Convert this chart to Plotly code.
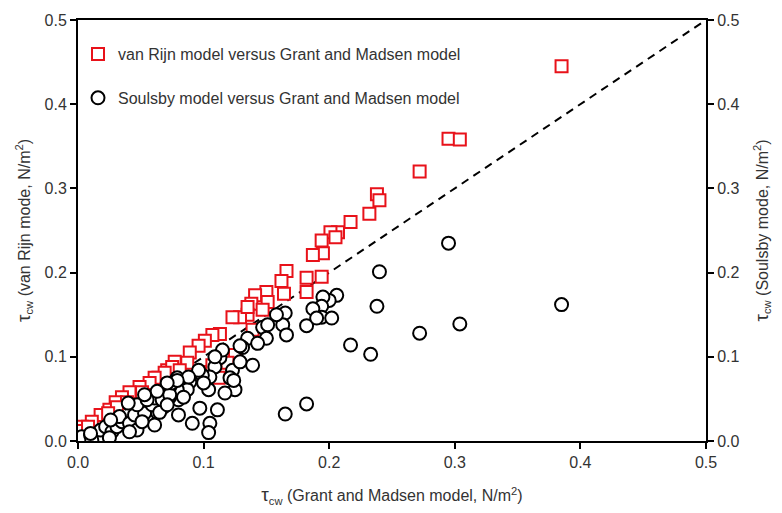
import plotly.graph_objects as go

# van Rijn model vs Grant and Madsen model (red squares)
vr_x = [0.385, 0.295, 0.304, 0.272, 0.238, 0.240, 0.232, 0.217, 0.207, 0.201, 0.205, 0.194,
        0.195, 0.187, 0.166, 0.162, 0.182, 0.194, 0.164, 0.182, 0.150, 0.141, 0.151, 0.138,
        0.147, 0.135, 0.129, 0.123, 0.139, 0.113, 0.107, 0.101, 0.096, 0.089, 0.087, 0.077,
        0.071, 0.064, 0.059, 0.112, 0.125, 0.107, 0.097, 0.075, 0.069, 0.061, 0.057, 0.049,
        0.041, 0.035, 0.030, 0.025, 0.018, 0.011, 0.003, 0.001, 0.135, 0.119, 0.081, 0.051,
        0.039, 0.031, 0.024, 0.008]
vr_y = [0.445, 0.359, 0.358, 0.320, 0.293, 0.286, 0.270, 0.260, 0.248, 0.248, 0.242, 0.238,
        0.223, 0.221, 0.202, 0.190, 0.194, 0.195, 0.175, 0.177, 0.177, 0.173, 0.165, 0.163,
        0.156, 0.150, 0.147, 0.147, 0.132, 0.127, 0.126, 0.119, 0.113, 0.105, 0.093, 0.094,
        0.084, 0.075, 0.067, 0.075, 0.102, 0.090, 0.082, 0.088, 0.081, 0.075, 0.069, 0.064,
        0.058, 0.052, 0.046, 0.037, 0.031, 0.023, 0.017, 0.012, 0.159, 0.093, 0.084, 0.058,
        0.046, 0.040, 0.033, 0.017]

# Soulsby model vs Grant and Madsen model (black circles)
so_x = [0.295, 0.240, 0.238, 0.385, 0.304, 0.272, 0.217, 0.233, 0.182, 0.165, 0.206, 0.200,
        0.195, 0.194, 0.187, 0.194, 0.202, 0.182, 0.165, 0.163, 0.166, 0.158, 0.147, 0.151,
        0.150, 0.135, 0.143, 0.131, 0.139, 0.123, 0.125, 0.117, 0.121, 0.113, 0.109, 0.105,
        0.104, 0.099, 0.096, 0.089, 0.087, 0.097, 0.111, 0.091, 0.105, 0.104, 0.080, 0.080,
        0.079, 0.084, 0.073, 0.068, 0.063, 0.061, 0.057, 0.115, 0.129, 0.100, 0.073, 0.003,
        0.010, 0.018, 0.022, 0.027, 0.031, 0.035, 0.033, 0.041, 0.047, 0.045, 0.053, 0.059,
        0.065, 0.061, 0.067, 0.073, 0.075, 0.079, 0.071, 0.051, 0.041, 0.011, 0.025, 0.047,
        0.055, 0.124, 0.088, 0.079, 0.071, 0.063, 0.053, 0.040, 0.026, 0.010, 0.109, 0.190,
        0.129]
so_y = [0.235, 0.201, 0.160, 0.162, 0.139, 0.128, 0.114, 0.103, 0.044, 0.032, 0.173, 0.167,
        0.171, 0.160, 0.157, 0.147, 0.146, 0.137, 0.152, 0.138, 0.126, 0.150, 0.135, 0.138,
        0.122, 0.122, 0.116, 0.111, 0.090, 0.084, 0.061, 0.057, 0.075, 0.099, 0.088, 0.076,
        0.061, 0.078, 0.084, 0.070, 0.061, 0.039, 0.037, 0.021, 0.021, 0.010, 0.031, 0.049,
        0.061, 0.052, 0.052, 0.040, 0.034, 0.019, 0.049, 0.108, 0.094, 0.069, 0.064, 0.005,
        0.007, 0.013, 0.017, 0.011, 0.017, 0.023, 0.029, 0.021, 0.013, 0.031, 0.033, 0.043,
        0.034, 0.051, 0.049, 0.055, 0.069, 0.075, 0.043, 0.023, 0.011, 0.001, 0.004, 0.043,
        0.049, 0.072, 0.076, 0.072, 0.069, 0.059, 0.055, 0.045, 0.025, 0.009, 0.100, 0.146,
        0.113]

line_x = [0.0, 0.5]
line_y = [0.0, 0.5]
ticks = [0.0, 0.1, 0.2, 0.3, 0.4, 0.5]

RED = "#e8121a"
FONT = "Liberation Sans, Arial, sans-serif"
TXT = "#333333"
FS = 16
TAU = '<span style="font-size:19px">τ</span><sub>cw</sub>'

fig = go.Figure()
fig.add_trace(go.Scatter(x=line_x, y=line_y, mode="lines",
                         line=dict(color="black", width=2, dash="8px,6px"),
                         showlegend=False, hoverinfo="skip"))
fig.add_trace(go.Scatter(x=vr_x, y=vr_y, mode="markers",
                         name="van Rijn model versus Grant and Madsen model",
                         marker=dict(symbol="square", size=12, color="white",
                                     line=dict(color=RED, width=2)),
                         legend="legend"))
fig.add_trace(go.Scatter(x=so_x, y=so_y, mode="markers",
                         name="Soulsby model versus Grant and Madsen model",
                         marker=dict(symbol="circle", size=13, color="white",
                                     line=dict(color="black", width=2)),
                         legend="legend2"))
# invisible trace to activate right axis
fig.add_trace(go.Scatter(x=[0], y=[0], yaxis="y2", mode="markers",
                         marker=dict(opacity=0), showlegend=False, hoverinfo="skip"))

axis_common = dict(range=[0, 0.5], tickvals=ticks, tickformat=".1f",
                   showgrid=False, zeroline=False, showline=True,
                   linecolor="black", linewidth=2, ticks="outside",
                   ticklen=6, tickwidth=1.5, tickcolor="black",
                   tickfont=dict(family=FONT, size=FS, color=TXT))

fig.update_layout(
    width=782, height=513,
    margin=dict(l=78, r=76, t=20, b=72),
    paper_bgcolor="white", plot_bgcolor="white",
    font=dict(family=FONT, size=FS, color=TXT),
    xaxis=dict(**axis_common, mirror=True,
               title=dict(text=TAU + " (Grant and Madsen model, N/m<sup>2</sup>)",
                          font=dict(family=FONT, size=FS, color=TXT), standoff=20)),
    yaxis=dict(**axis_common,
               title=dict(text=TAU + " (van Rijn mode, N/m<sup>2</sup>)",
                          font=dict(family=FONT, size=FS, color=TXT), standoff=10)),
    yaxis2=dict(**axis_common, overlaying="y", side="right",
                title=dict(text=TAU + " (Soulsby mode, N/m<sup>2</sup>)",
                           font=dict(family=FONT, size=FS, color=TXT), standoff=18)),
    legend=dict(x=0.0, y=0.919, xanchor="left", yanchor="middle",
                bgcolor="rgba(0,0,0,0)", itemwidth=30,
                font=dict(family=FONT, size=FS, color=TXT)),
    legend2=dict(x=0.0, y=0.815, xanchor="left", yanchor="middle",
                 bgcolor="rgba(0,0,0,0)", itemwidth=30,
                 font=dict(family=FONT, size=FS, color=TXT)),
)

fig.write_html("out.html")
